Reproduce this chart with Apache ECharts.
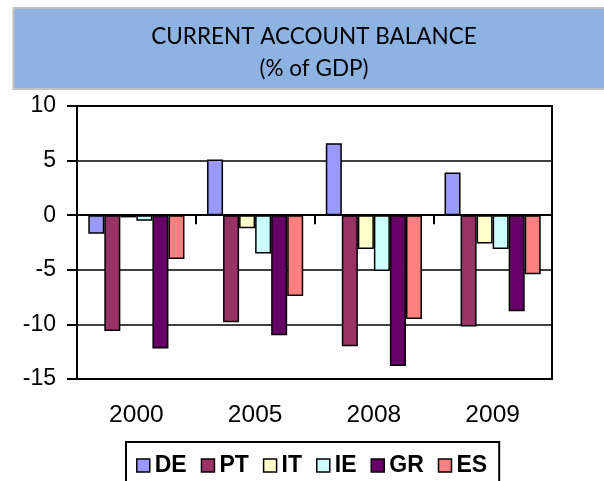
<!DOCTYPE html>
<html>
<head>
<meta charset="utf-8">
<script src="https://cdn.jsdelivr.net/npm/echarts@6/dist/echarts.min.js"></script>
<style>
  html, body { margin: 0; padding: 0; background: #fff; }
  #chart { width: 604px; height: 481px; }
</style>
</head>
<body>
<div id="chart"></div>
<script>
var years = ['2000', '2005', '2008', '2009'];
var countries = ['DE', 'PT', 'IT', 'IE', 'GR', 'ES'];
var colors = ['#9999FF', '#993366', '#FFFFCC', '#CCFFFF', '#660066', '#FF8080'];

var DE = [-1.7, 5.1, 6.6, 3.9];
var PT = [-10.6, -9.8, -12.0, -10.2];
var IT = [-0.2, -1.2, -3.1, -2.6];
var IE = [-0.5, -3.5, -5.1, -3.1];
var GR = [-12.2, -11.0, -13.8, -8.8];
var ES = [-4.0, -7.4, -9.5, -5.4];

var values = [DE, PT, IT, IE, GR, ES];

window.onload = function() {
    var chart = echarts.init(document.getElementById('chart'));

    var series = countries.map(function(name, i) {
        return {
            name: name,
            type: 'bar',
            xAxisIndex: 0,
            data: values[i],
            barGap: '0%',
            barCategoryGap: '19%',
            itemStyle: {
                color: colors[i],
                borderColor: '#000',
                borderWidth: 1.5
            }
        };
    });

    chart.setOption({
        animation: false,
        graphic: [{
            type: 'rect',
            shape: { x: 13.5, y: 8, width: 600, height: 81 },
            style: { fill: '#8DB3E2', stroke: '#C0C0C0', lineWidth: 2 },
            z: -1
        }],
        title: {
            text: 'CURRENT ACCOUNT BALANCE\n(% of GDP)',
            left: 309,
            top: 16,
            textAlign: 'center',
            textStyle: {
                fontFamily: 'Lato',
                fontWeight: 'normal',
                fontSize: 22.5,
                lineHeight: 32,
                color: '#000'
            }
        },
        legend: {
            data: countries,
            left: 126,
            top: 442,
            padding: [12, 12, 30, 10],
            borderColor: '#000',
            borderWidth: 2,
            itemWidth: 13,
            itemHeight: 13,
            itemGap: 14,
            icon: 'rect',
            itemStyle: { borderColor: '#000', borderWidth: 1.5 },
            textStyle: {
                fontFamily: 'Liberation Sans',
                fontWeight: 'bold',
                fontSize: 23,
                color: '#000'
            }
        },
        grid: {
            left: 77,
            right: 52,
            top: 106,
            bottom: 102,
            show: true,
            borderColor: '#000',
            borderWidth: 2
        },
        xAxis: [{
            type: 'category',
            data: years,
            axisLine: { onZero: true, lineStyle: { color: '#000', width: 2 } },
            axisTick: { show: true, length: 9, lineStyle: { color: '#000', width: 2 } },
            axisLabel: { show: false }
        }, {
            type: 'category',
            data: years,
            position: 'bottom',
            axisLine: { show: false, onZero: false },
            axisTick: { show: false },
            axisLabel: {
                margin: 24,
                fontFamily: 'Liberation Sans',
                fontSize: 24.5,
                color: '#000'
            }
        }],
        yAxis: {
            type: 'value',
            min: -15,
            max: 10,
            interval: 5,
            axisLine: { show: true, lineStyle: { color: '#000', width: 2 } },
            axisTick: { show: true, length: 10, lineStyle: { color: '#000', width: 2 } },
            splitLine: { lineStyle: { color: '#000', width: 1.5 } },
            axisLabel: {
                margin: 21,
                fontFamily: 'Liberation Sans',
                fontSize: 23,
                color: '#000'
            }
        },
        series: series
    });
};
</script>
</body>
</html>
